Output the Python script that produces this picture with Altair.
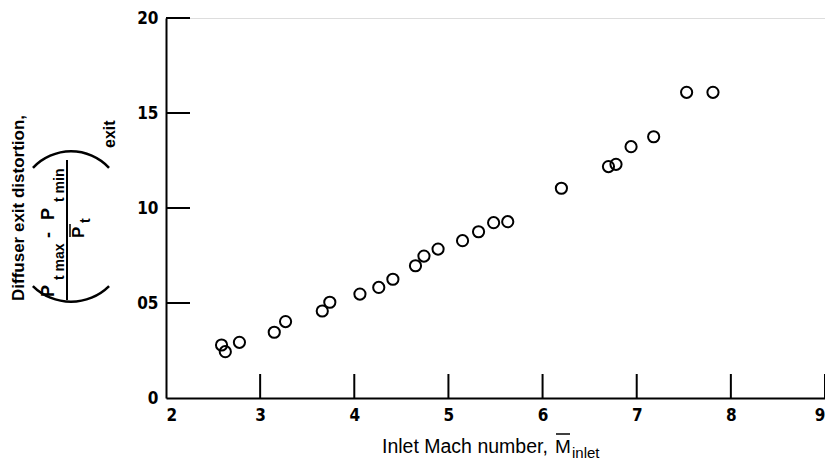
import altair as alt
import pandas as pd

# ---- data ----
mach = [2.59, 2.63, 2.78, 3.15, 3.27, 3.66, 3.74, 4.06, 4.26, 4.41, 4.65, 4.74,
        4.89, 5.15, 5.32, 5.48, 5.63, 6.20, 6.70, 6.78, 6.94, 7.18, 7.53, 7.81]
distortion = [0.0279, 0.0244, 0.0293, 0.0346, 0.0402, 0.0458, 0.0504, 0.0547,
              0.0582, 0.0625, 0.0696, 0.0747, 0.0784, 0.0828, 0.0875, 0.0923,
              0.0928, 0.1104, 0.1218, 0.1230, 0.1323, 0.1375, 0.1609, 0.1609]
x_ticks = [2, 3, 4, 5, 6, 7, 8, 9]
y_ticks = [0, 0.05, 0.10, 0.15, 0.20]
x_inner_ticks = [3, 4, 5, 6, 7, 8, 9]
y_inner_ticks = [0.05, 0.10, 0.15, 0.20]

W, H = 659, 380
OX, OY = 166, 18  # plot origin in page pixels (used only for annotation placement)
FONT = "Liberation Sans"
NARROW = "DejaVu Sans Condensed"

df = pd.DataFrame({"mach": mach, "dist": distortion})

xs = alt.Scale(domain=[2, 9], nice=False, zero=False)
ys = alt.Scale(domain=[0, 0.20], nice=False)

x_axis = alt.Axis(
    values=x_ticks, title="", ticks=False, tickSize=0, grid=False,
    domainColor="black", domainWidth=2, labelFont=NARROW, labelFontWeight="bold",
    labelFontSize=17, labelColor="black", labelPadding=9, format="d")
y_axis = alt.Axis(
    values=y_ticks, title="", ticks=False, tickSize=0, grid=False,
    domainColor="black", domainWidth=2, labelFont=NARROW, labelFontWeight="bold",
    labelFontSize=17, labelColor="black", labelPadding=8,
    labelExpr="datum.value == 0 ? '0' : format(round(datum.value*100), '02d')")

points = alt.Chart(df).mark_point(
    shape="circle", filled=False, size=125, strokeWidth=2, color="black", opacity=1
).encode(
    x=alt.X("mach:Q", scale=xs, axis=x_axis),
    y=alt.Y("dist:Q", scale=ys, axis=y_axis),
)

xt = alt.Chart(pd.DataFrame({"mach": x_inner_ticks})).mark_rule(
    color="black", strokeWidth=2).encode(
    x=alt.X("mach:Q", scale=xs, axis=x_axis), y=alt.value(H), y2=alt.value(H - 24))
yt = alt.Chart(pd.DataFrame({"dist": y_inner_ticks})).mark_rule(
    color="black", strokeWidth=2).encode(
    y=alt.Y("dist:Q", scale=ys, axis=y_axis), x=alt.value(0), x2=alt.value(24))


def txt(text, x, y, size=17, angle=0, align="left", baseline="alphabetic",
        weight="bold", font=FONT):
    return alt.Chart(pd.DataFrame({"t": [text]})).mark_text(
        align=align, baseline=baseline, angle=angle, fontSize=size, font=font,
        fontWeight=weight, color="black").encode(
        text="t:N", x=alt.value(x - OX), y=alt.value(y - OY))


def rule(x1, y1, x2, y2, w=2):
    return alt.Chart(pd.DataFrame({"a": [0]})).mark_rule(
        color="black", strokeWidth=w).encode(
        x=alt.value(x1 - OX), y=alt.value(y1 - OY),
        x2=alt.value(x2 - OX), y2=alt.value(y2 - OY))


def arc(cx, cy, r, t1, t2):
    return alt.Chart(pd.DataFrame({"a": [0]})).mark_arc(
        radius=r, radius2=r - 2.5, theta=t1, theta2=t2, color="black").encode(
        x=alt.value(cx - OX), y=alt.value(cy - OY))


annots = [
    # x-axis title
    txt("Inlet Mach number,", 382, 453, size=19.5, weight="normal"),
    txt("M", 555, 453, size=19, weight="normal"),
    txt("inlet", 572, 458, size=15, weight="normal"),
    rule(556, 434, 570, 434, 1.5),
    # y-axis title
    txt("Diffuser exit distortion,", 24, 208, angle=270, align="center"),
    txt("P", 54, 297, size=18, angle=270),
    txt("t max", 64, 280, size=14, angle=270),
    txt("-", 54, 238, size=18, angle=270),
    txt("P", 54, 220, size=18, angle=270),
    txt("t min", 64, 202, size=14, angle=270),
    rule(67, 160, 67, 300, 2),
    txt("P", 84, 238, size=17, angle=270),
    txt("t", 90, 223, size=14, angle=270),
    rule(70, 224, 70, 237, 1.5),
    txt("exit", 115, 148, size=16, angle=270),
    arc(71, 247.5, 55.5, 2.363, 3.921),
    arc(71, 203, 53, 6.283 - 0.826, 6.283 + 0.826),
]

chart = alt.layer(points, xt, yt, *annots).properties(
    width=W, height=H,
    autosize=alt.AutoSizeParams(type="none"),
    padding={"left": 158, "top": 10, "right": 0, "bottom": 63},
).configure_view(stroke=None).configure(background="white")

chart.save("out.html", embed_options={"renderer": "svg", "actions": False})
